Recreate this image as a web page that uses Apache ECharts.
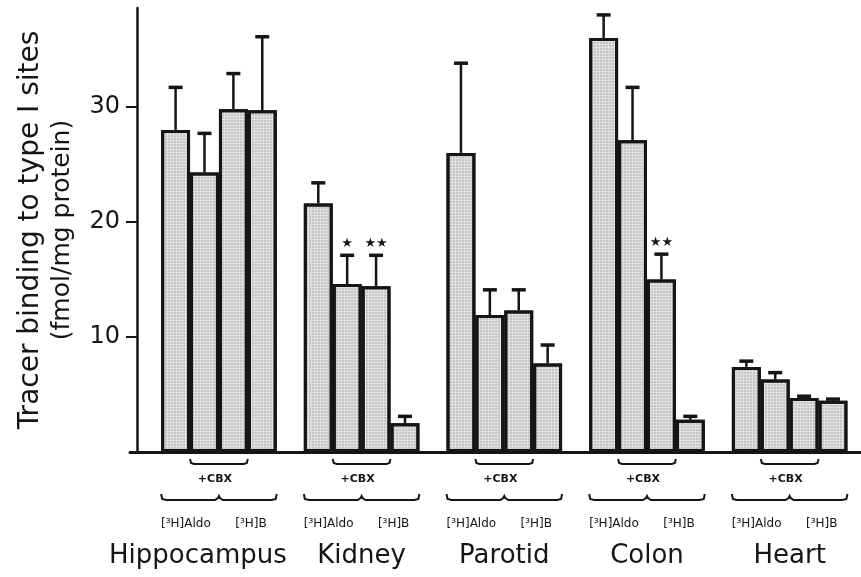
<!DOCTYPE html>
<html>
<head>
<meta charset="utf-8">
<script src="https://cdn.jsdelivr.net/npm/echarts@6/dist/echarts.min.js"></script>
<style>
  html, body { margin: 0; padding: 0; background: #fff; }
  #chart { width: 861px; height: 577px; }
</style>
</head>
<body>
<div id="chart"></div>
<script>
// tissues
const groups = ['Hippocampus', 'Kidney', 'Parotid', 'Colon', 'Heart'];

// tracer binding (fmol/mg protein), bars left to right in each group
const aldo     = [28.0, 21.6, 26.0, 36.0, 7.4];   // [3H]Aldo
const aldoCbx  = [24.3, 14.6, 11.9, 27.1, 6.3];   // [3H]Aldo + CBX
const bCbx     = [29.8, 14.4, 12.3, 15.0, 4.7];   // [3H]B + CBX
const b        = [29.7,  2.5,  7.7,  2.8, 4.45];  // [3H]B

// error (upper whisker)
const aldoErr    = [3.7, 1.8, 7.8, 2.0, 0.5];
const aldoCbxErr = [3.4, 2.5, 2.2, 4.6, 0.6];
const bCbxErr    = [3.1, 2.7, 1.8, 2.2, 0.15];
const bErr       = [6.4, 0.6, 1.6, 0.3, 0.15];

// significance marks
const aldoCbxStars = ['', '★', '', '', ''];
const bCbxStars    = ['', '★★', '', '★★', ''];

const yTicks = [10, 20, 30];

const chart = echarts.init(document.getElementById('chart'));

const GAP = 0.19;       // barCategoryGap
const NBARS = 4;
const INK = '#151515';
const FONT = 'DejaVu Sans';

const barStyle = {
    color: '#e0e0e0',
    borderColor: INK,
    borderWidth: 3,
    decal: {
        symbol: 'circle',
        symbolSize: 0.7,
        color: 'rgba(40,40,40,0.4)',
        dashArrayX: [2, 1],
        dashArrayY: [2, 1]
    }
};

function barSeries(name, values) {
    return {
        name: name,
        type: 'bar',
        xAxisIndex: 0,
        yAxisIndex: 0,
        data: values,
        barGap: '0%',
        barCategoryGap: (GAP * 100) + '%',
        itemStyle: barStyle,
        z: 2
    };
}

function errSeries(k, values, errs, stars) {
    return {
        type: 'custom',
        xAxisIndex: 0,
        yAxisIndex: 0,
        z: 3,
        data: values.map((v, i) => [i, v, errs[i]]),
        renderItem: (params, api) => {
            const cat = api.value(0);
            const v = api.value(1);
            const e = api.value(2);
            const band = api.size([1, 0])[0];
            const bw = band * (1 - GAP) / NBARS;
            const x = api.coord([cat, 0])[0] - band * (1 - GAP) / 2 + bw * (k + 0.5);
            const yTop = api.coord([cat, v])[1];
            const yErr = api.coord([cat, v + e])[1];
            const children = [
                { type: 'line', shape: { x1: x, y1: yTop, x2: x, y2: yErr },
                  style: { stroke: INK, lineWidth: 2.5 } },
                { type: 'line', shape: { x1: x - 7, y1: yErr, x2: x + 7, y2: yErr },
                  style: { stroke: INK, lineWidth: 3.5 } }
            ];
            const s = stars ? stars[params.dataIndex] : '';
            if (s) {
                children.push({ type: 'text', x: x, y: yErr - 12,
                    style: { text: s, fill: INK, font: '13px ' + FONT, align: 'center', verticalAlign: 'middle' } });
            }
            return { type: 'group', children: children };
        }
    };
}

// brackets and small labels under each group
const annotSeries = {
    type: 'custom',
    xAxisIndex: 0,
    yAxisIndex: 0,
    z: 3,
    data: groups.map((g, i) => [i, 0]),
    renderItem: (params, api) => {
        const cat = api.value(0);
        const [c, y0] = api.coord([cat, 0]);
        const band = api.size([1, 0])[0];
        const gw = band * (1 - GAP);
        const bw = gw / NBARS;
        const sty = { stroke: INK, lineWidth: 2, fill: null };
        const ys = y0 + 12;
        const x1 = c - bw, x2 = c + bw;
        const yb = y0 + 48;
        const l = c - gw / 2, r = c + gw / 2;
        return {
            type: 'group',
            children: [
                { type: 'polyline', shape: { points: [[x1, ys - 5], [x1 + 1, ys - 1], [x1 + 4, ys], [x2 - 4, ys], [x2 - 1, ys - 1], [x2, ys - 5]] }, style: sty },
                { type: 'text', x: c - 4, y: y0 + 27,
                  style: { text: '+CBX', fill: INK, font: 'bold 11px ' + FONT, align: 'center', verticalAlign: 'middle' } },
                { type: 'polyline', shape: { points: [[l, yb - 6], [l + 1, yb - 1], [l + 5, yb], [c - 4, yb], [c - 1, yb - 2], [c, yb - 4], [c + 1, yb - 2], [c + 4, yb], [r - 5, yb], [r - 1, yb - 1], [r, yb - 6]] }, style: sty },
                { type: 'text', x: c - 33, y: y0 + 72,
                  style: { text: '[³H]Aldo', fill: INK, font: '12px ' + FONT, align: 'center', verticalAlign: 'middle' } },
                { type: 'text', x: c + 32, y: y0 + 72,
                  style: { text: '[³H]B', fill: INK, font: '12px ' + FONT, align: 'center', verticalAlign: 'middle' } }
            ]
        };
    }
};

const option = {
    animation: false,
    backgroundColor: '#fff',
    grid: [
        { left: 147.6, right: -10, top: 8, bottom: 125 },
        { left: 130, right: -10, top: 8, bottom: 125 }
    ],
    xAxis: [
        {
            type: 'category',
            gridIndex: 0,
            data: groups,
            axisLine: { show: false },
            axisTick: { show: false },
            axisLabel: {
                interval: 0,
                margin: 91,
                fontFamily: FONT,
                fontSize: 26,
                color: INK,
                formatter: (v) => v === 'Hippocampus' ? '{h|' + v + '}' : v,
                rich: { h: { fontFamily: FONT, fontSize: 26, color: INK, padding: [0, 42, 0, 0] } }
            }
        },
        {
            type: 'value',
            gridIndex: 1,
            axisLine: { show: true, lineStyle: { color: INK, width: 3 } },
            axisTick: { show: false },
            axisLabel: { show: false },
            splitLine: { show: false }
        }
    ],
    yAxis: [
        {
            type: 'value',
            gridIndex: 0,
            min: 0,
            max: 38.6,
            interval: 10,
            offset: 10.6,
            name: '{a|Tracer binding to type I sites}\n{b|(fmol/mg protein)}',
            nameLocation: 'middle',
            nameRotate: 90,
            nameGap: 58,
            nameTextStyle: {
                fontFamily: FONT, fontSize: 25, color: INK, lineHeight: 32,
                rich: {
                    a: { fontFamily: FONT, fontSize: 28, color: INK, lineHeight: 32 },
                    b: { fontFamily: FONT, fontSize: 25, color: INK, lineHeight: 32 }
                }
            },
            axisLine: { show: true, lineStyle: { color: INK, width: 2.5 } },
            axisTick: { show: true, length: 11, customValues: yTicks, lineStyle: { color: INK, width: 2 } },
            axisLabel: {
                margin: 17,
                fontFamily: FONT,
                fontSize: 24,
                color: INK,
                customValues: yTicks
            },
            splitLine: { show: false }
        },
        {
            type: 'value',
            gridIndex: 1,
            show: false
        }
    ],
    series: [
        barSeries('[3H]Aldo', aldo),
        barSeries('[3H]Aldo + CBX', aldoCbx),
        barSeries('[3H]B + CBX', bCbx),
        barSeries('[3H]B', b),
        errSeries(0, aldo, aldoErr, null),
        errSeries(1, aldoCbx, aldoCbxErr, aldoCbxStars),
        errSeries(2, bCbx, bCbxErr, bCbxStars),
        errSeries(3, b, bErr, null),
        annotSeries
    ]
};

chart.setOption(option);
</script>
</body>
</html>
